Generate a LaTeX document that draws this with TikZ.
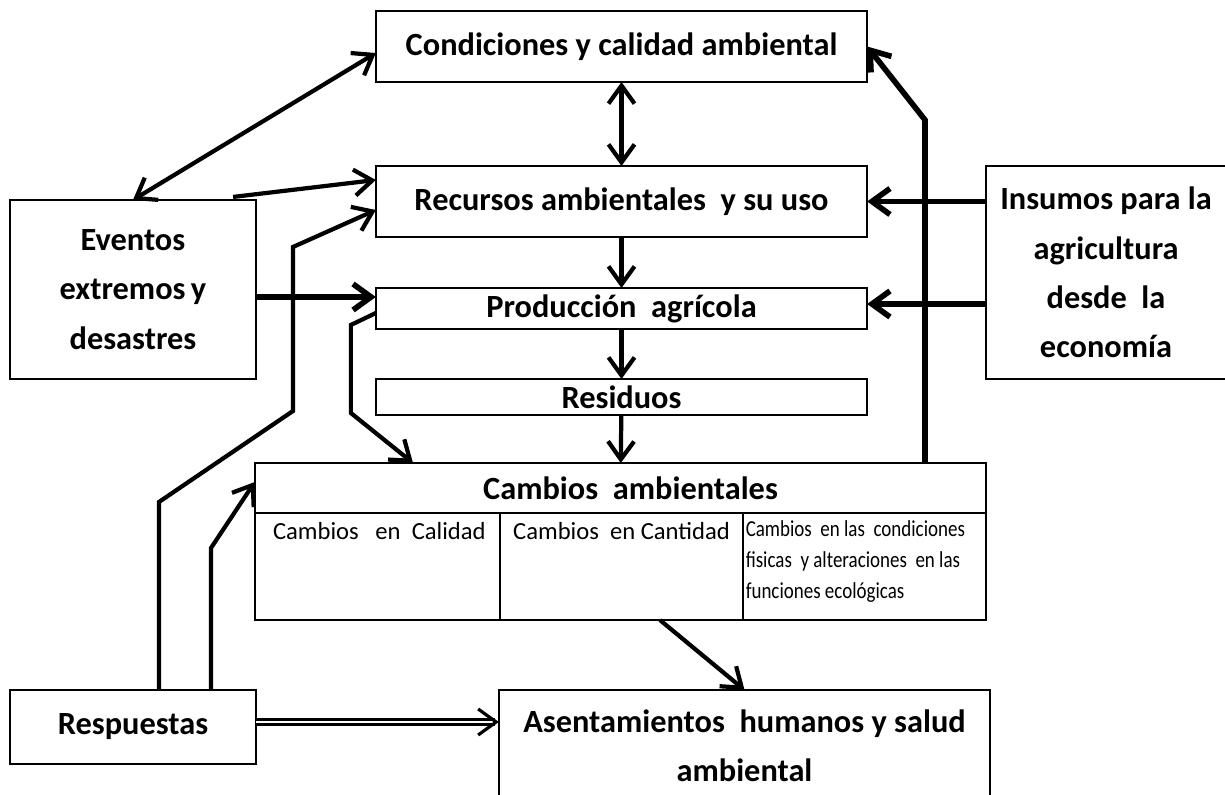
\documentclass[tikz,border=0pt]{standalone}
\usepackage{fontspec}
\setmainfont{Carlito}
\newfontfamily\narrowfont[FakeStretch=0.83]{Carlito}
\usetikzlibrary{arrows.meta,calc}
\tikzset{
  box/.style    ={draw,line width=0.5pt,inner sep=0pt,outer sep=0pt,align=center,font=\bfseries\fontsize{9.2}{14}\selectfont},
  midbox/.style ={box,minimum width=4.91cm},
  cell/.style   ={draw,line width=0.5pt,inner sep=0pt,outer sep=0pt,minimum height=1.07cm},
  small/.style  ={inner sep=0pt,font=\fontsize{7}{8}\selectfont},
  tiny/.style   ={inner sep=0pt,align=left,font=\narrowfont\fontsize{6.5}{8.8}\selectfont},
  flow/.style   ={-{Straight Barb[length=1.8mm,width=2.6mm]},line width=1.2pt},
  heavy/.style  ={flow,line width=1.6pt},
  both/.style   ={{Straight Barb[length=1.8mm,width=2.6mm]}-{Straight Barb[length=1.8mm,width=2.6mm]},line width=1.2pt},
  dbl/.style    ={-{Straight Barb[length=1.8mm,width=2.6mm]},double,double distance=0.6pt,line width=0.9pt},
}
\begin{document}
\begin{tikzpicture}[x=0.01cm,y=-0.01cm]
  \useasboundingbox (0,0) rectangle (1225,795);
  \clip (0,0) rectangle (1225,795);
  % central column
  \node[midbox,minimum height=0.71cm] (cond)  at (621.5,46.5)  {Condiciones y calidad ambiental};
  \node[midbox,minimum height=0.71cm] (recur) at (621.5,201.5) {Recursos ambientales~ y su uso};
  \node[midbox,minimum height=0.41cm] (prod)  at (621.5,308.5) {Producción~ agrícola};
  \node[midbox,minimum height=0.36cm] (resid) at (621.5,397)   {Residuos};
  % cambios ambientales
  \node[box,minimum width=7.31cm,minimum height=0.5cm] (camb) at (620.5,488) {\hspace{0.2cm}Cambios~ ambientales};
  \node[cell,minimum width=2.45cm,anchor=north west] (c1) at (camb.south west) {};
  \node[cell,minimum width=2.43cm,anchor=north west] (c2) at (c1.north east) {};
  \node[cell,minimum width=2.43cm,anchor=north west] (c3) at (c2.north east) {};
  \node[small,anchor=base] (t1) at ($(c1.north)+(2,26)$) {Cambios~~ en~ Calidad};
  \node[small,anchor=base] (t2) at ($(c2.north)+(0,26)$) {Cambios~ en Cantidad};
  \node[tiny,anchor=north west] (t3) at ($(c3.north west)+(2,7)$) {Cambios~ en las~ condiciones\\fisicas~ y alteraciones~ en las\\funciones ecológicas};
  % side boxes
  \node[box,minimum width=2.46cm,minimum height=1.79cm] (event) at (133,289.5) {Eventos\\extremos\,y\\desastres};
  \node[box,minimum width=2.40cm,minimum height=2.13cm] (insum) at (1106,272.5) {Insumos para la\\agricultura\\desde~ la\\economía};
  \node[box,minimum width=2.46cm,minimum height=0.74cm] (resp)  at (133,727) {Respuestas};
  \node[box,minimum width=4.91cm,minimum height=1.12cm] (asent) at (744.5,746) {Asentamientos~ humanos y salud\\ambiental};

  % down the middle
  \draw[both] (cond) -- (recur);
  \draw[flow] (recur) -- (prod);
  \draw[flow] (prod) -- (resid);
  \draw[flow] (resid) -- (camb);
  % eventos
  \draw[both] (event.north) -- ($(cond.west)+(0,6.5)$);
  \draw[flow] ($(event.north east)+(-23,-3)$) -- ($(recur.west)+(0,-21.5)$);
  \coordinate (pin) at ($(prod.west)+(0,-11.5)$);
  \draw[heavy] (event.east |- pin) -- (pin);
  % insumos
  \draw[heavy] (insum.west |- recur) -- (recur.east);
  \draw[heavy] ($(insum.west |- prod)+(0,-4.5)$) -- ($(prod.east)+(0,-4.5)$);
  % feedback paths
  \draw[heavy] ($(camb.north)+(304.5,0)$) -- ++(0,-343) -- (cond.east);
  \draw[flow] ($(prod.west)+(0,4.5)$) -- ++(-25,12) -- ++(0,88) -- ($(camb.north)+(-207.5,0)$);
  % respuestas
  \draw[flow] ($(resp.north)+(26,0)$) -- ++(0,-188) -- ++(134,-91) -- ++(0,-164) -- ($(recur.west)+(0,8.5)$);
  \draw[flow] ($(resp.north)+(78,0)$) -- ++(0,-142) -- ($(camb.west)+(0,-6)$);
  \draw[flow] ($(c2.south)+(38.5,0)$) -- (asent.north);
  \draw[dbl] ($(resp.east)+(0,-5)$) -- ($(resp.east -| asent.west)+(0,-5)$);
\end{tikzpicture}
\end{document}
